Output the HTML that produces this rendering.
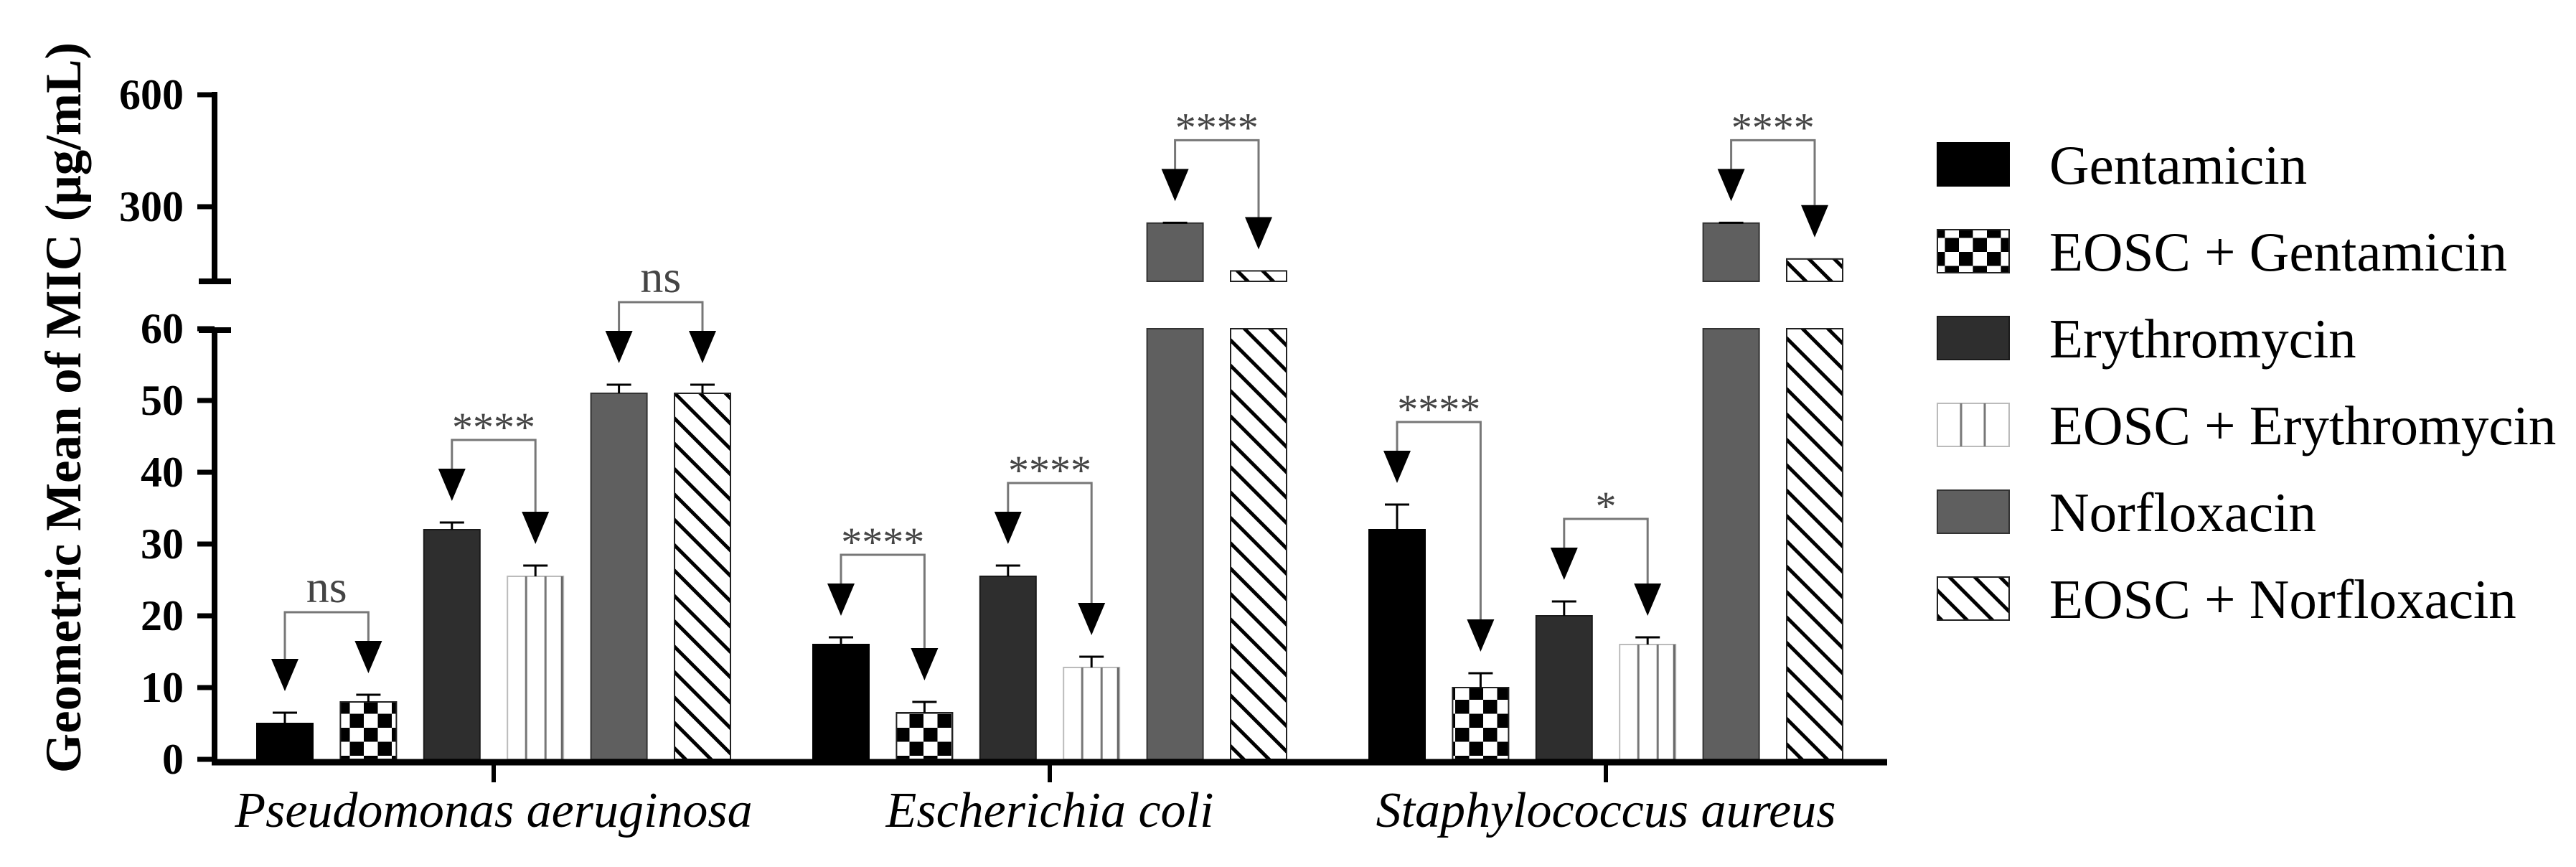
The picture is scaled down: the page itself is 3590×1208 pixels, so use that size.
<!DOCTYPE html>
<html><head><meta charset="utf-8"><style>
html,body{margin:0;padding:0;background:#fff;}
svg{display:block;}
</style></head><body>
<svg id="chart" width="3590" height="1208" viewBox="0 0 3590 1208" xmlns="http://www.w3.org/2000/svg">
<defs>
<pattern id="checker" patternUnits="userSpaceOnUse" width="39" height="39">
<rect width="39" height="39" fill="#fff"/><rect width="19.5" height="19.5" fill="#000"/><rect x="19.5" y="19.5" width="19.5" height="19.5" fill="#000"/>
</pattern>
<pattern id="hatch" patternUnits="userSpaceOnUse" width="25" height="25" patternTransform="rotate(-45)">
<rect width="25" height="25" fill="#fff"/><rect x="0" y="0" width="5" height="25" fill="#000"/>
</pattern>
</defs>
<g id="plot"></g>
</svg>
<script>
const categories = ["Pseudomonas aeruginosa", "Escherichia coli", "Staphylococcus aureus"];
const seriesNames = ["Gentamicin", "EOSC + Gentamicin", "Erythromycin", "EOSC + Erythromycin", "Norfloxacin", "EOSC + Norfloxacin"];
const gentamicin = [5, 16, 32];
const eoscGentamicin = [8, 6.5, 10];
const erythromycin = [32, 25.5, 20];
const eoscErythromycin = [25.5, 12.8, 16];
const norfloxacin = [51, 256, 256];
const eoscNorfloxacin = [51, 128, 160];
const gentamicinErr = [1.5, 1, 3.5];
const eoscGentamicinErr = [1, 1.5, 2];
const erythromycinErr = [1, 1.5, 2];
const eoscErythromycinErr = [1.5, 1.5, 1];
const norfloxacinErr = [1.2, 1, 1];
const eoscNorfloxacinErr = [1.2, 0, 0];
const sigLabels = [["ns", "****", "ns"], ["****", "****", "****"], ["****", "*", "****"]];
const lowerTicks = [0, 10, 20, 30, 40, 50, 60];
const upperTicks = [300, 600];

const series = [gentamicin, eoscGentamicin, erythromycin, eoscErythromycin, norfloxacin, eoscNorfloxacin];
const errs = [gentamicinErr, eoscGentamicinErr, erythromycinErr, eoscErythromycinErr, norfloxacinErr, eoscNorfloxacinErr];
const NS = "http://www.w3.org/2000/svg";
const plot = document.getElementById("plot");
const Y0 = 1058, LOWMAX = 60, UPBOT = 392, UPMIN = 100;
function yScale(v){ return v <= LOWMAX ? Y0 - v*10 : UPBOT - (v-UPMIN)*0.52; }
function groupStart(g){ return 358 + g*775; }
function barX(g,i){ return groupStart(g) + i*116.4; }
const BW = 78;
function mk(tag, attrs, parent){ const e=document.createElementNS(NS,tag); for(const k in attrs) e.setAttribute(k, attrs[k]); (parent||plot).appendChild(e); return e; }
const fills = ["#000", "url(#checker)", "#2e2e2e", "#fff", "#5f5f5f", "url(#hatch)"];
const strokes = ["#000", "#222", "#1a1a1a", "#bbb", "#333", "#222"];
const slug = ["gentamicin","eosc-gentamicin","erythromycin","eosc-erythromycin","norfloxacin","eosc-norfloxacin"];

function drawRect(x,y,h,i,parent){
  const r = mk("rect",{x:x,y:y,width:BW,height:h,fill:fills[i],stroke:strokes[i],"stroke-width":2},parent);
  if(i===3){
    [26,53].forEach(function(o){ mk("line",{x1:x+o,x2:x+o,y1:y,y2:y+h,stroke:"#777","stroke-width":3},parent); });
    mk("line",{x1:x+BW-2,x2:x+BW-2,y1:y,y2:y+h,stroke:"#666","stroke-width":3},parent);
  }
  return r;
}

for(let g=0; g<categories.length; g++){
  const tips = [];
  for(let i=0;i<6;i++){
    const v = series[i][g], x = barX(g,i);
    const grp = mk("g",{});
    
    
    if(v <= LOWMAX){
      drawRect(x, yScale(v), Y0 - yScale(v), i, grp);
    } else {
      drawRect(x, yScale(LOWMAX), Y0 - yScale(LOWMAX), i, grp);
      drawRect(x, yScale(v), UPBOT - yScale(v), i, grp);
    }
    const hi = v + errs[i][g];
    const ey = yScale(hi), cx = x + BW/2;
    const eb = mk("g",{});
    
    
    if(errs[i][g] > 0){
      mk("line",{x1:cx,x2:cx,y1:ey,y2:yScale(v),stroke:"#000","stroke-width":3},eb);
      mk("line",{x1:cx-17,x2:cx+17,y1:ey,y2:ey,stroke:"#000","stroke-width":3},eb);
    }
    tips.push({cx:cx, tip: ey - 30});
  }
  for(let p=0;p<3;p++){
    const L = tips[2*p], R = tips[2*p+1];
    const by = Math.min(L.tip, R.tip) - 45 - 40;
    const sg = mk("g",{});
    
    
    mk("polyline",{points:`${L.cx},${L.tip-45} ${L.cx},${by} ${R.cx},${by} ${R.cx},${R.tip-45}`,fill:"none",stroke:"#777","stroke-width":3},sg);
    [L,R].forEach(function(t){
      mk("polygon",{points:`${t.cx-19},${t.tip-45} ${t.cx+19},${t.tip-45} ${t.cx},${t.tip}`,fill:"#000"},sg);
    });
    const lab = sigLabels[g][p];
    const t = mk("text",{x:(L.cx+R.cx)/2,y: lab==="ns" ? by-14 : by+2,"text-anchor":"middle","font-family":"Liberation Serif, serif","font-size": lab==="ns"?64:58,fill:"#444"},sg);
    t.textContent = lab;
    
    
  }
}

const ax = mk("g",{});


mk("line",{x1:299,x2:299,y1:128,y2:392,stroke:"#000","stroke-width":8},ax);
mk("line",{x1:277,x2:322,y1:392,y2:392,stroke:"#000","stroke-width":8},ax);
mk("line",{x1:299,x2:299,y1:460,y2:1062,stroke:"#000","stroke-width":8},ax);
mk("line",{x1:277,x2:322,y1:460,y2:460,stroke:"#000","stroke-width":8},ax);
upperTicks.concat(lowerTicks).forEach(function(v){
  const y = yScale(v);
  const tk = mk("line",{x1:275,x2:299,y1:y,y2:y,stroke:"#000","stroke-width":7},ax);
  
  
  const t = mk("text",{x:256,y:y+20,"text-anchor":"end","font-family":"Liberation Serif, serif","font-weight":"bold","font-size":60,fill:"#000"},ax);
  t.textContent = v;
  
  
});
const xa = mk("g",{});


mk("line",{x1:295,x2:2630,y1:1062,y2:1062,stroke:"#000","stroke-width":9},xa);
categories.forEach(function(c,g){
  const cx = groupStart(g) + (5*116.4 + BW)/2;
  mk("line",{x1:cx,x2:cx,y1:1062,y2:1090,stroke:"#000","stroke-width":6},xa);
  const t = mk("text",{x:cx,y:1152,"text-anchor":"middle","font-family":"Liberation Serif, serif","font-style":"italic","font-size":70,fill:"#000"},xa);
  t.textContent = c;
  
  
});
const yt = mk("text",{x:0,y:0,transform:"translate(112,568) rotate(-90)","text-anchor":"middle","font-family":"Liberation Serif, serif","font-weight":"bold","font-size":71,fill:"#000"});
yt.textContent = "Geometric Mean of MIC (μg/mL)";



const lg = mk("g",{});


seriesNames.forEach(function(n,i){
  const y = 199 + i*121;
  const e = mk("g",{},lg);
  
  
  mk("rect",{x:2700,y:y,width:100,height:60,fill:fills[i],stroke:strokes[i],"stroke-width":2},e);
  if(i===3){ [2733,2766].forEach(function(x){ mk("line",{x1:x,x2:x,y1:y,y2:y+60,stroke:"#777","stroke-width":3},e); }); }
  const t = mk("text",{x:2856,y:y+57,"font-family":"Liberation Serif, serif","font-size":77,fill:"#000"},e);
  t.textContent = n;
});
</script>
</body></html>
